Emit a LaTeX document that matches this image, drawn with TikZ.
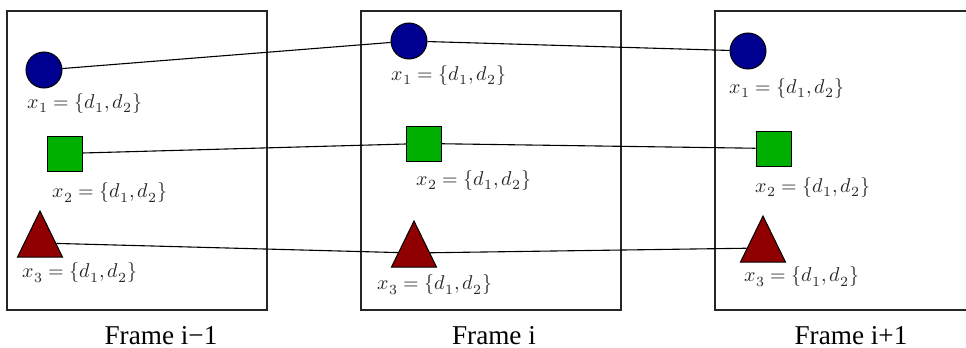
\documentclass[tikz,border=0pt]{standalone}
\usepackage{fontspec}
\usepackage{amsmath}
\setmainfont{Liberation Serif}
\usepackage{unicode-math}
\setmathfont{Latin Modern Math}
\usetikzlibrary{shapes.geometric}
\definecolor{objblue}{HTML}{000090}
\definecolor{objgreen}{HTML}{00B000}
\definecolor{objred}{HTML}{900000}
\tikzset{
  frame/.style={
    draw=black!85,
    line width=.6pt
  },
  dot/.style={
    circle,
    draw=black,
    line width=.5pt,
    fill=objblue,
    inner sep=0pt,
    minimum size=18pt
  },
  box/.style={
    rectangle,
    draw=black,
    line width=.5pt,
    fill=objgreen,
    inner sep=0pt,
    minimum size=17.5pt
  },
  tri/.style={
    isosceles triangle,
    isosceles triangle apex angle=52,
    isosceles triangle stretches,
    shape border rotate=90,
    draw=black,
    line width=.5pt,
    fill=objred,
    inner sep=0pt,
    minimum width=22.5pt,
    minimum height=23pt
  },
  feature/.style={
    font=\fontsize{10}{12}\selectfont,
    text=black!85,
    inner sep=0pt
  },
  caption/.style={
    font=\fontsize{13.6}{16}\selectfont,
    text=black,
    inner sep=0pt,
    anchor=base
  },
  track/.style={
    draw=black,
    line width=.55pt
  }
}

\begin{document}
\begin{tikzpicture}[x=0.5pt,y=-0.5pt]
  \clip (0,0) rectangle (966,348);
  \draw[frame] (7,11) rectangle (267,310);
  \draw[frame] (361,11) rectangle (621,310);
  \draw[frame] (715,11) rectangle (975,310);

  \node[dot] (c1) at (44,70)    {};
  \node[dot] (c2) at (409,41)   {};
  \node[dot] (c3) at (748,51)   {};
  \node[box] (s1) at (64.5,153.5) {};
  \node[box] (s2) at (424,143.5)  {};
  \node[box] (s3) at (773.5,148.5) {};
  \node[tri] (t1) at (40,243)   {};
  \node[tri] (t2) at (414,253)  {};
  \node[tri] (t3) at (763,248)  {};

  \node[feature] (lc1) at (85,103)  {$x_1=\{d_1,d_2\}$};
  \node[feature] (lc2) at (449,75)  {$x_1=\{d_1,d_2\}$};
  \node[feature] (lc3) at (787,88)  {$x_1=\{d_1,d_2\}$};
  \node[feature] (ls1) at (110,193) {$x_2=\{d_1,d_2\}$};
  \node[feature] (ls2) at (474,180) {$x_2=\{d_1,d_2\}$};
  \node[feature] (ls3) at (813,187) {$x_2=\{d_1,d_2\}$};
  \node[feature] (lt1) at (80,273)  {$x_3=\{d_1,d_2\}$};
  \node[feature] (lt2) at (435,285) {$x_3=\{d_1,d_2\}$};
  \node[feature] (lt3) at (802,277) {$x_3=\{d_1,d_2\}$};

  \draw[track] (c1) -- (c2) -- (c3);
  \draw[track] (s1) -- (s2) -- (s3);
  \draw[track] (t1) -- (t2) -- (t3);

  \node[caption] (f1) at (161,344) {Frame i−1};
  \node[caption] (f2) at (494,344) {Frame i};
  \node[caption] (f3) at (851,344) {Frame i+1};
\end{tikzpicture}
\end{document}
